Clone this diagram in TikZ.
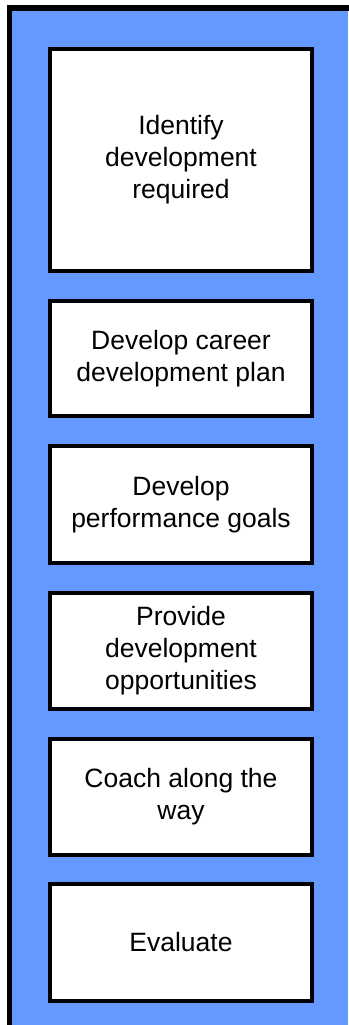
\documentclass[tikz,border=0pt]{standalone}
\usepackage{fontspec}
\setmainfont{Liberation Sans}
\definecolor{bgblue}{RGB}{102,153,255}
\begin{document}
\begin{tikzpicture}[x=1pt,y=-1pt,
  stepbox/.style={draw=black,fill=white,line width=4pt,minimum width=262pt,
    inner sep=0pt,outer sep=0pt,align=center,
    font=\fontsize{26.5}{32}\selectfont}]
\useasboundingbox (0,0) rectangle (348,1025);
\fill[white] (0,0) rectangle (348,1025);
\fill[bgblue] (9.5,8) rectangle (348,1025);
\draw[line width=5.5pt,line join=miter] (9.5,1026) -- (9.5,8) -- (349,8);
\node[stepbox,minimum height=222pt] (b1) at (181,160) {Identify\\development\\required};
\node[stepbox,minimum height=115pt] (b2) at (181,358.5) {Develop career\\development plan};
\node[stepbox,minimum height=117pt] (b3) at (181,504.5) {Develop\\performance goals};
\node[stepbox,minimum height=116pt] (b4) at (181,651) {Provide\\development\\opportunities};
\node[stepbox,minimum height=116pt] (b5) at (181,797) {Coach along the\\way};
\node[stepbox,minimum height=117pt] (b6) at (181,942.5) {Evaluate};
\end{tikzpicture}
\end{document}
